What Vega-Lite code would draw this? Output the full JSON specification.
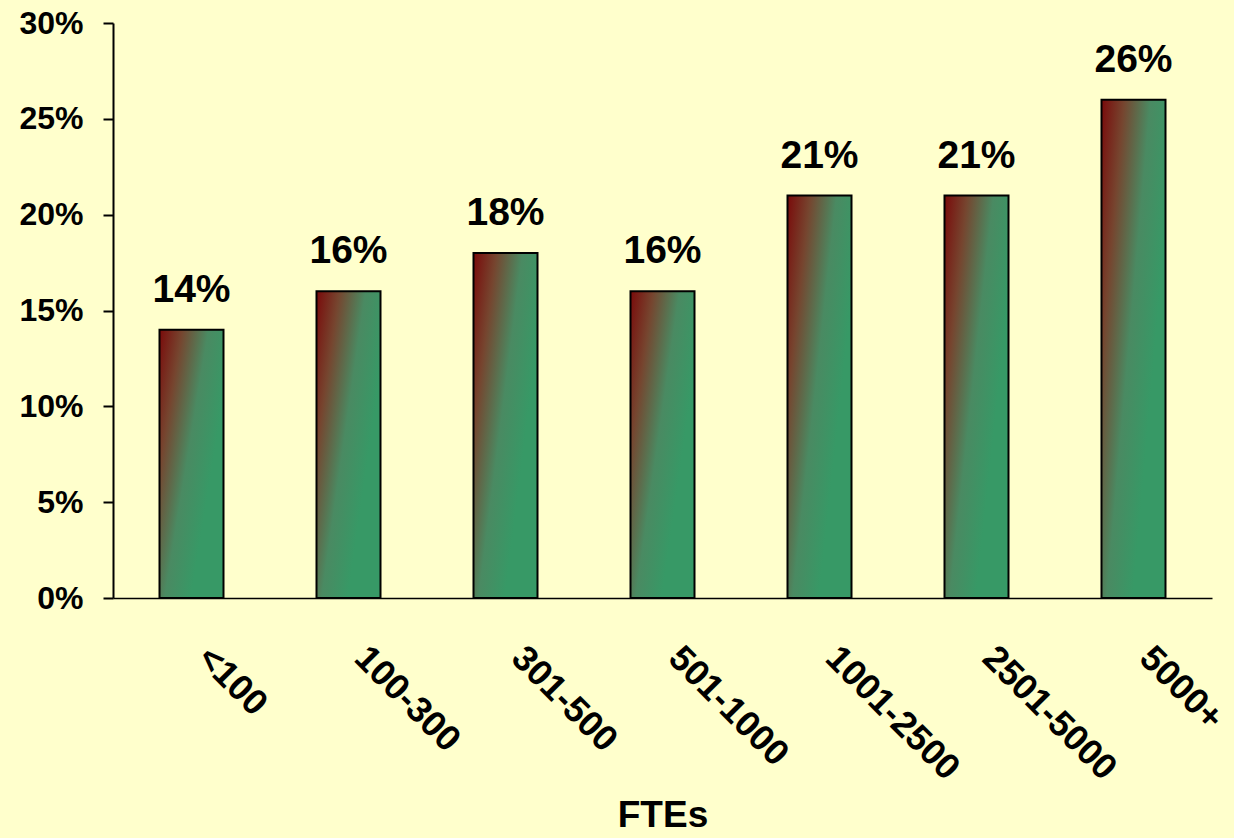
{
  "$schema": "https://vega.github.io/schema/vega-lite/v6.json",
  "width": 1099,
  "height": 575,
  "autosize": {"type": "none"},
  "padding": {"left": 113, "top": 23, "right": 22, "bottom": 240},
  "background": "#FFFFCC",
  "config": {
    "view": {"stroke": null},
    "font": "Liberation Sans"
  },
  "data": {
    "values": [
      {"fte": "<100", "pct": 0.14},
      {"fte": "100-300", "pct": 0.16},
      {"fte": "301-500", "pct": 0.18},
      {"fte": "501-1000", "pct": 0.16},
      {"fte": "1001-2500", "pct": 0.21},
      {"fte": "2501-5000", "pct": 0.21},
      {"fte": "5000+", "pct": 0.26}
    ]
  },
  "encoding": {
    "x": {
      "field": "fte",
      "type": "nominal",
      "sort": null,
      "scale": {"paddingInner": 0, "paddingOuter": 0},
      "axis": {
        "title": "FTEs",
        "titleFont": "Liberation Sans",
        "titleFontSize": 37,
        "titleFontWeight": "bold",
        "titleColor": "#000000",
        "titlePadding": 11,
        "labelAngle": 45,
        "labelAlign": "left",
        "labelBaseline": "middle",
        "labelFontSize": 36,
        "labelFontWeight": "bold",
        "labelColor": "#000000",
        "labelPadding": 54,
        "labelOffset": 12,
        "ticks": false,
        "domainColor": "#000000",
        "domainWidth": 1.5
      }
    },
    "y": {
      "field": "pct",
      "type": "quantitative",
      "scale": {"domain": [0, 0.3]},
      "axis": {
        "title": null,
        "format": ".0%",
        "values": [0, 0.05, 0.1, 0.15, 0.2, 0.25, 0.3],
        "grid": false,
        "labelFontSize": 32,
        "labelFontWeight": "bold",
        "labelColor": "#000000",
        "labelPadding": 20,
        "tickSize": 10,
        "tickColor": "#000000",
        "tickWidth": 2,
        "domainColor": "#000000",
        "domainWidth": 2
      }
    }
  },
  "layer": [
    {
      "mark": {
        "type": "bar",
        "size": 64,
        "stroke": "#000000",
        "strokeWidth": 2,
        "color": {
          "gradient": "linear",
          "x1": 0, "y1": 0, "x2": 0.8, "y2": 0.55,
          "stops": [
            {"offset": 0, "color": "#7a0a0a"},
            {"offset": 0.3, "color": "#76452f"},
            {"offset": 0.65, "color": "#4a8a62"},
            {"offset": 1, "color": "#379966"}
          ]
        }
      }
    },
    {
      "mark": {
        "type": "text",
        "dy": -20,
        "baseline": "bottom",
        "fontSize": 39,
        "fontWeight": "bold",
        "color": "#000000"
      },
      "encoding": {
        "text": {"field": "pct", "type": "quantitative", "format": ".0%"}
      }
    }
  ]
}
